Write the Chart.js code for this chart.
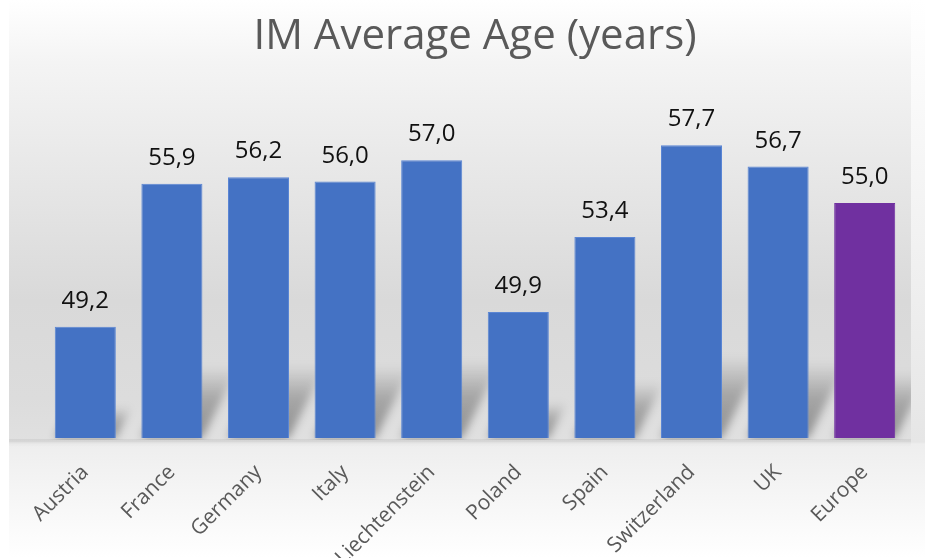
<!DOCTYPE html>
<html>
<head>
<meta charset="utf-8">
<script src="https://cdn.jsdelivr.net/npm/chart.js@4"></script>
<style>
  html, body { margin: 0; padding: 0; background: #fff; }
  #wrap { width: 925px; height: 558px; }
</style>
</head>
<body>
<div id="wrap"><canvas id="myChart" width="925" height="558"></canvas></div>
<script>
const countries = ["Austria", "France", "Germany", "Italy", "Liechtenstein", "Poland", "Spain", "Switzerland", "UK", "Europe"];
const avgAge = [49.2, 55.9, 56.2, 56.0, 57.0, 49.9, 53.4, 57.7, 56.7, 55.0];
const barColors = ["#4472C4", "#4472C4", "#4472C4", "#4472C4", "#4472C4", "#4472C4", "#4472C4", "#4472C4", "#4472C4", "#7030A0"];
const borderColors = ["#5b86d4", "#5b86d4", "#5b86d4", "#5b86d4", "#5b86d4", "#5b86d4", "#5b86d4", "#5b86d4", "#5b86d4", "#7030A0"];

// slanted soft shadow behind each bar
function drawShadows(chart) {
  const { ctx, chartArea } = chart;
  const meta = chart.getDatasetMeta(0);
  ctx.save();
  ctx.beginPath();
  ctx.rect(9, 0, chartArea.right + 3 - 9, chartArea.bottom + 2);
  ctx.clip();
  ctx.filter = "blur(4px)";
  meta.data.forEach((bar) => {
    const l = bar.x - bar.width / 2, r = bar.x + bar.width / 2, b = chartArea.bottom;
    const h = (b - bar.y) * 0.28, dx = h * 0.5;
    const g = ctx.createLinearGradient(0, b, 0, b - h);
    g.addColorStop(0, "rgba(0,0,0,0.36)");
    g.addColorStop(0.55, "rgba(0,0,0,0.24)");
    g.addColorStop(1, "rgba(0,0,0,0)");
    ctx.fillStyle = g;
    ctx.beginPath();
    ctx.moveTo(l, b);
    ctx.lineTo(r, b);
    ctx.lineTo(r + dx, b - h);
    ctx.lineTo(l + dx, b - h);
    ctx.closePath();
    ctx.fill();
  });
  ctx.restore();
}

// backdrop: soft grey gradients like the office chart style
const backdrop = {
  id: "backdrop",
  beforeDraw(chart) {
    const { ctx, width, height, chartArea } = chart;
    const floor = chartArea.bottom + 4;
    const right = chartArea.right + 3;
    ctx.save();
    let g = ctx.createLinearGradient(0, 0, 0, height);
    g.addColorStop(0, "#ffffff");
    g.addColorStop(floor / height, "#e6e6e6");
    g.addColorStop((floor + 2) / height, "#eeeeee");
    g.addColorStop(1, "#ffffff");
    ctx.fillStyle = g;
    ctx.fillRect(9, 0, width - 9, height);

    g = ctx.createLinearGradient(0, 0, 0, floor);
    g.addColorStop(0, "#ffffff");
    g.addColorStop(0.14, "#f4f4f4");
    g.addColorStop(0.68, "#d9d9d9");
    g.addColorStop(0.9, "#dcdcdc");
    g.addColorStop(1, "#e0e0e0");
    ctx.fillStyle = g;
    ctx.fillRect(9, 0, right - 9, floor);

    g = ctx.createLinearGradient(0, floor - 3, 0, floor + 5);
    g.addColorStop(0, "rgba(0,0,0,0.06)");
    g.addColorStop(1, "rgba(0,0,0,0)");
    ctx.fillStyle = g;
    ctx.fillRect(9, floor - 3, right - 9, 8);
    ctx.restore();
    drawShadows(chart);
  },
  afterDatasetsDraw(chart) {
    const { ctx } = chart;
    const meta = chart.getDatasetMeta(0);
    ctx.save();
    ctx.font = "24px 'Open Sans'";
    ctx.fillStyle = "#111111";
    ctx.textAlign = "center";
    ctx.textBaseline = "alphabetic";
    meta.data.forEach((bar, i) => {
      ctx.fillText(avgAge[i].toFixed(1).replace(".", ","), bar.x, bar.y - 19);
    });
    ctx.restore();
  }
};

const config = {
  type: "bar",
  data: {
    labels: countries,
    datasets: [{
      label: "IM Average Age",
      data: avgAge,
      backgroundColor: barColors,
      borderColor: borderColors,
      borderWidth: 1,
      barPercentage: 0.705,
      categoryPercentage: 1
    }]
  },
  options: {
    responsive: false,
    animation: false,
    layout: { padding: { left: 42, right: 17, top: 0, bottom: 0 } },
    plugins: {
      legend: { display: false },
      tooltip: { enabled: false },
      title: {
        display: true,
        text: "IM Average Age (years)",
        color: "#595959",
        font: { family: "'Open Sans'", size: 42, weight: "normal", lineHeight: 1.2 },
        padding: { top: 12, bottom: 33.6 }
      }
    },
    scales: {
      x: {
        grid: { display: false, drawTicks: false },
        border: { display: false },
        ticks: {
          color: "#595959",
          font: { family: "'Open Sans'", size: 21 },
          minRotation: 45,
          maxRotation: 45,
          padding: 22,
          autoSkip: false
        },
        afterFit(scale) { scale.height = 120; }
      },
      y: {
        display: false,
        min: 44,
        max: 60
      }
    }
  },
  plugins: [backdrop]
};

const myChart = new Chart(document.getElementById("myChart"), config);
</script>
</body>
</html>
